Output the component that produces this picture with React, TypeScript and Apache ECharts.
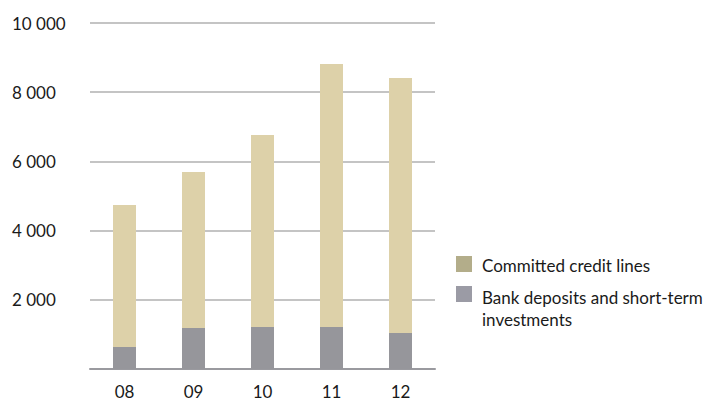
import React, { useEffect, useRef } from "react";
import * as echarts from "echarts";

const categories = ["08", "09", "10", "11", "12"];
const bankDeposits = [636, 1185, 1214, 1214, 1040];
const committedCredit = [4104, 4509, 5549, 7601, 7370];
const yTicks = [0, 2000, 4000, 6000, 8000, 10000];
const seriesNames = ["Committed credit lines", "Bank deposits and short-term investments"];

const FONT = "Lato, 'Open Sans', sans-serif";

function fmt(v: number): string {
  if (v === 0) return "";
  return String(v).replace(/\B(?=(\d{3})+(?!\d))/g, " ");
}

export default function App() {
  const ref = useRef<HTMLDivElement>(null);
  useEffect(() => {
    if (!ref.current) return;
    const chart = echarts.init(ref.current, undefined, { renderer: "svg" });
    chart.setOption({
      animation: false,
      backgroundColor: "#ffffff",
      textStyle: { fontFamily: FONT },
      grid: { left: 90, right: 275, top: 23, bottom: 34, containLabel: false },
      xAxis: {
        type: "category",
        data: categories,
        axisLine: { show: true, lineStyle: { color: "#9a9a9f", width: 2 } },
        axisTick: { show: false },
        axisLabel: { color: "#1a1a1a", fontSize: 17, fontFamily: FONT, margin: 13, lineHeight: 18 },
      },
      yAxis: {
        type: "value",
        min: yTicks[0],
        max: yTicks[yTicks.length - 1],
        interval: 2000,
        axisLine: { show: false },
        axisTick: { show: false },
        splitLine: { show: true, lineStyle: { color: "#c4c4c4", width: 2 } },
        axisLabel: {
          color: "#1a1a1a",
          fontSize: 17,
          fontFamily: FONT,
          align: "left",
          margin: 78,
          formatter: (v: number) => fmt(v),
        },
      },
      series: [
        {
          name: seriesNames[1],
          type: "bar",
          stack: "total",
          data: bankDeposits,
          barWidth: 23,
          itemStyle: { color: "#96969b" },
        },
        {
          name: seriesNames[0],
          type: "bar",
          stack: "total",
          data: committedCredit,
          barWidth: 23,
          itemStyle: { color: "#ddd1a9" },
        },
      ],
      graphic: [
        { type: "rect", shape: { x: 456, y: 256, width: 16, height: 16 }, style: { fill: "#b3ad8a" } },
        {
          type: "text",
          x: 482,
          y: 265,
          style: { text: seriesNames[0], font: `17px ${FONT}`, fill: "#1a1a1a", verticalAlign: "middle" },
        },
        { type: "rect", shape: { x: 456, y: 286, width: 16, height: 16 }, style: { fill: "#9b9ba5" } },
        {
          type: "text",
          x: 482,
          y: 297,
          style: { text: "Bank deposits and short-term", font: `17px ${FONT}`, fill: "#1a1a1a", verticalAlign: "middle" },
        },
        {
          type: "text",
          x: 482,
          y: 319,
          style: { text: "investments", font: `17px ${FONT}`, fill: "#1a1a1a", verticalAlign: "middle" },
        },
      ],
    });
    return () => chart.dispose();
  }, []);
  return (
    <div
      ref={ref}
      style={{ position: "fixed", left: 0, top: 0, width: 710, height: 403 }}
    />
  );
}
